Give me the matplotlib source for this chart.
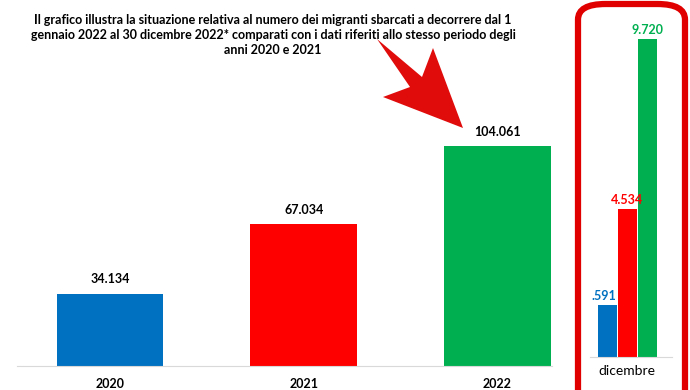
import matplotlib.pyplot as plt
from matplotlib.patches import FancyBboxPatch, Polygon

plt.rcParams['font.family'] = ['Lato', 'DejaVu Sans']

anni = ['2020', '2021', '2022']
sbarchi = [34134, 67034, 104061]
etichette = ['34.134', '67.034', '104.061']
colori = ['#0070c0', '#ff0000', '#00b050']

dicembre = [1591, 4534, 9720]
dic_etichette = ['.591', '4.534', '9.720']

titolo = ('Il grafico illustra la situazione relativa al numero dei migranti sbarcati a decorrere dal 1\n'
          'gennaio 2022 al 30 dicembre 2022* comparati con i dati riferiti allo stesso periodo degli\n'
          'anni 2020 e 2021')

W, H = 690, 390
fig = plt.figure(figsize=(W / 100, H / 100), dpi=100)


def box(x0, y0, x1, y1):
    # pixel (top-left origin) -> figure fraction
    return [x0 / W, (H - y1) / H, (x1 - x0) / W, (y1 - y0) / H]


# grafico principale
ax = fig.add_axes(box(17, 100, 575, 366))
x = range(len(anni))
ax.bar(x, sbarchi, width=0.55, color=colori)
for i, v in enumerate(sbarchi):
    ax.annotate(etichette[i], (i, v), xytext=(0, 6), textcoords='offset points',
                ha='center', va='bottom', fontsize=9, fontweight='bold')
ax.set_xlim(-0.48, 2.4)
ax.set_ylim(0, 125800)
ax.set_xticks(list(x))
ax.set_xticklabels(anni, fontsize=9, fontweight='bold')
ax.tick_params(axis='x', length=0, pad=9)
ax.set_yticks([])
for s in ['top', 'right', 'left']:
    ax.spines[s].set_visible(False)
ax.spines['bottom'].set_color('#d9d9d9')
ax.spines['bottom'].set_bounds(-0.48, 2.28)

# dicembre
ax2 = fig.add_axes(box(590, 20, 672, 357))
pos = [-1, 0, 1]
ax2.bar(pos, dicembre, width=0.95, color=colori)
for i, v in enumerate(dicembre):
    ax2.annotate(dic_etichette[i], (pos[i], v), xytext=(-2 if i == 0 else 0, 2),
                 textcoords='offset points', ha='center', va='bottom',
                 fontsize=9, fontweight='bold', color=colori[i])
ax2.set_xlim(-1.85, 2.25)
ax2.set_ylim(0, 10300)
ax2.set_xticks([0])
ax2.set_xticklabels(['dicembre'], fontsize=10)
ax2.tick_params(axis='x', length=0, pad=6)
ax2.set_yticks([])
for s in ['top', 'right', 'left']:
    ax2.spines[s].set_visible(False)
ax2.spines['bottom'].set_color('#d9d9d9')

# riquadro rosso
riq = FancyBboxPatch((578 / W, -0.05), 107 / W, (H - 4) / H + 0.05,
                     boxstyle='round,pad=0,rounding_size=0.04',
                     transform=fig.transFigure, fill=False,
                     edgecolor='#e00000', linewidth=4.5, clip_on=False)
fig.add_artist(riq)

# freccia
pts = [(377, 39), (422, 77), (433, 48), (463, 128), (383, 97), (410, 87)]
freccia = Polygon([(px / W, (H - py) / H) for px, py in pts], closed=True,
                  transform=fig.transFigure, facecolor='#e00b0b', edgecolor='none')
fig.add_artist(freccia)

fig.text(273 / W, (H - 14) / H, titolo, ha='center', va='top',
         fontsize=9, fontweight='bold', linespacing=1.3)

fig.savefig('out.png', dpi=100)
